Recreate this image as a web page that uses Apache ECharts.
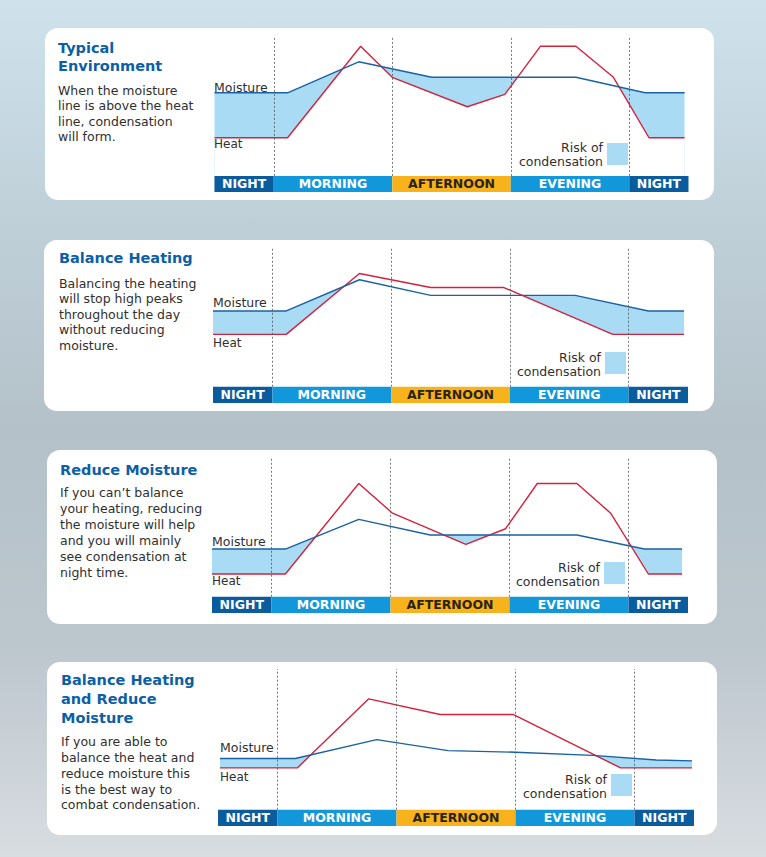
<!DOCTYPE html>
<html><head><meta charset="utf-8">
<script src="https://cdn.jsdelivr.net/npm/echarts@6/dist/echarts.min.js"></script>
<style>
html,body{margin:0;padding:0;width:766px;height:857px;overflow:hidden;}
body{background:linear-gradient(180deg,#cfe2eb 0%,#c1d2db 22%,#b4c1c9 50%,#bcc6cd 75%,#d8dde1 100%);}
#c{width:766px;height:857px;}
</style></head><body><div id="c"></div>
<script>
// ---- data ----
const periodNames = ['NIGHT', 'MORNING', 'AFTERNOON', 'EVENING', 'NIGHT'];
const periodBounds = [0, 3, 9, 15, 21, 24]; // hours

const titles = [
  ['Typical', 'Environment'],
  ['Balance Heating'],
  ['Reduce Moisture'],
  ['Balance Heating', 'and Reduce', 'Moisture']
];
const bodies = [
  ['When the moisture', 'line is above the heat', 'line, condensation', 'will form.'],
  ['Balancing the heating', 'will stop high peaks', 'throughout the day', 'without reducing', 'moisture.'],
  ['If you can\u2019t balance', 'your heating, reducing', 'the moisture will help', 'and you will mainly', 'see condensation at', 'night time.'],
  ['If you are able to', 'balance the heat and', 'reduce moisture this', 'is the best way to', 'combat condensation.']
];

// [hour, level]
const moisture1 = [[0,64],[3.7,64],[7.3,84],[11,74],[18.3,74],[21.8,64],[23.8,64]];
const heat1     = [[0,35],[3.7,35],[7.4,94],[9,74],[12.8,55],[14.7,63],[16.5,94],[18.3,94],[20.2,74],[22,35],[23.8,35]];
const moisture2 = [[0,59],[3.7,59],[7.4,79],[11,69],[18.3,69],[22,59],[23.8,59]];
const heat2     = [[0,44],[3.7,44],[7.4,83],[11,74],[14.7,74],[20.2,44],[23.8,44]];
const moisture3 = [[0,41],[3.7,41],[7.4,60],[11,50],[18.4,50],[21.8,41],[23.7,41]];
const heat3     = [[0,25],[3.7,25],[7.4,83],[9.1,64],[12.8,44],[14.8,54],[16.4,83],[18.4,83],[20.1,64],[22,25],[23.7,25]];
const moisture4 = [[0.1,43],[3.9,43],[8,55],[11.6,48],[15,47],[18.9,45],[22.1,42],[23.9,41.5]];
const heat4     = [[0.1,37],[4,37],[7.6,81],[11.2,71],[14.9,71],[20.3,37],[23.9,37]];
const moistureSets = [moisture1, moisture2, moisture3, moisture4];
const heatSets = [heat1, heat2, heat3, heat4];

// ---- styles / layout ----
const FILL = '#a9dbf5', MOIST = '#1a62a2', HEAT = '#d3223d', TITLE = '#0c5fa6', TEXT = '#2f2f2f';
const periodColors = ['#0b5c9d', '#1297da', '#f8b21c', '#1297da', '#0b5c9d'];
const periodText = ['#fff', '#fff', '#2a2418', '#fff', '#fff'];
const BAR = 10.4;
const FONT = '"DejaVu Sans", "Open Sans", sans-serif';
const layouts = [
  {box:[45,28,669,172], grid:[214.5,37,474,155], tx:58, ty:[48,66], by:[90,105.5,121,136.5], ml:[214,87], hl:[214,144], risk:[603,154,607,143]},
  {box:[44,240,670,171], grid:[213,247,475,156], tx:59, ty:[258], by:[283,298.5,314,329.5,345], ml:[213,302], hl:[213,343], risk:[601,364,605,352]},
  {box:[47,450,670,174], grid:[212,457,476,156], tx:60, ty:[470], by:[492,508,524,540,556,572], ml:[212,541], hl:[212,581], risk:[600,574,604,562]},
  {box:[47,662,670,173], grid:[218,669,476,157], tx:61, ty:[680,699,717.5], by:[741,757,773,789,804.5], ml:[220,747], hl:[220,777], risk:[607,786,611,774]}
];

const grids = [], xAxes = [], yAxes = [], series = [], graphics = [];
layouts.forEach((L, i) => {
  graphics.push({type:'rect', z:0, shape:{x:L.box[0], y:L.box[1], width:L.box[2], height:L.box[3], r:13}, style:{fill:'#fff'}});
  titles[i].forEach((t, k) => graphics.push({type:'text', z:100, style:{text:t, x:L.tx, y:L.ty[k], fill:TITLE, font:'bold 14.5px ' + FONT, textVerticalAlign:'middle'}}));
  bodies[i].forEach((t, k) => graphics.push({type:'text', z:100, style:{text:t, x:L.tx, y:L.by[k], fill:TEXT, font:'12.5px ' + FONT, textVerticalAlign:'middle'}}));
  graphics.push({type:'text', z:100, style:{text:'Moisture', x:L.ml[0], y:L.ml[1], fill:TEXT, font:'12.5px ' + FONT, textVerticalAlign:'middle'}});
  graphics.push({type:'text', z:100, style:{text:'Heat', x:L.hl[0], y:L.hl[1], fill:TEXT, font:'12px ' + FONT, textVerticalAlign:'middle'}});
  graphics.push({type:'text', z:100, style:{text:'Risk of\ncondensation', x:L.risk[0], y:L.risk[1], fill:TEXT, font:'12.5px ' + FONT, lineHeight:14, textAlign:'right', textVerticalAlign:'middle'}});
  graphics.push({type:'rect', z:100, shape:{x:L.risk[2], y:L.risk[3], width:21, height:22}, style:{fill:FILL}});

  grids.push({left:L.grid[0], top:L.grid[1], width:L.grid[2], height:L.grid[3], containLabel:false});
  xAxes.push({type:'value', gridIndex:i, min:0, max:24, show:false});
  yAxes.push({type:'value', gridIndex:i, min:0, max:100, show:false});
  const common = {type:'line', xAxisIndex:i, yAxisIndex:i, showSymbol:false, symbol:'none', silent:true, animation:false};
  series.push(Object.assign({}, common, {name:'mArea'+i, data:moistureSets[i], z:2, lineStyle:{opacity:0}, areaStyle:{color:FILL, opacity:1}}));
  series.push(Object.assign({}, common, {name:'hArea'+i, data:heatSets[i], z:3, lineStyle:{opacity:0}, areaStyle:{color:'#ffffff', opacity:1}}));
  series.push(Object.assign({}, common, {name:'Heat'+i, data:heatSets[i], z:4, lineStyle:{color:HEAT, width:1.4}}));
  series.push(Object.assign({}, common, {name:'Moisture'+i, data:moistureSets[i], z:5, lineStyle:{color:MOIST, width:1.4},
    markLine:{silent:true, z:6, symbol:'none', animation:false, label:{show:false},
      lineStyle:{color:'#555', type:[2,2], width:0.8},
      data: periodBounds.slice(1, -1).map(b => [{coord:[b, BAR]}, {coord:[b, 100]}])},
    markArea:{silent:true, z:10, animation:false,
      data: periodNames.map((n, k) => [
        {name:n, xAxis:periodBounds[k], yAxis:0, itemStyle:{color:periodColors[k], opacity:1},
         label:{color:periodText[k]}},
        {xAxis:periodBounds[k+1], yAxis:BAR}]),
      label:{show:true, position:'inside', fontWeight:'bold', fontSize:12.5, fontFamily:FONT}}
  }));
});

const chart = echarts.init(document.getElementById('c'), null, {renderer:'svg'});
chart.setOption({animation:false, backgroundColor:'transparent', grid:grids, xAxis:xAxes, yAxis:yAxes, series:series, graphic:graphics});
</script></body></html>
